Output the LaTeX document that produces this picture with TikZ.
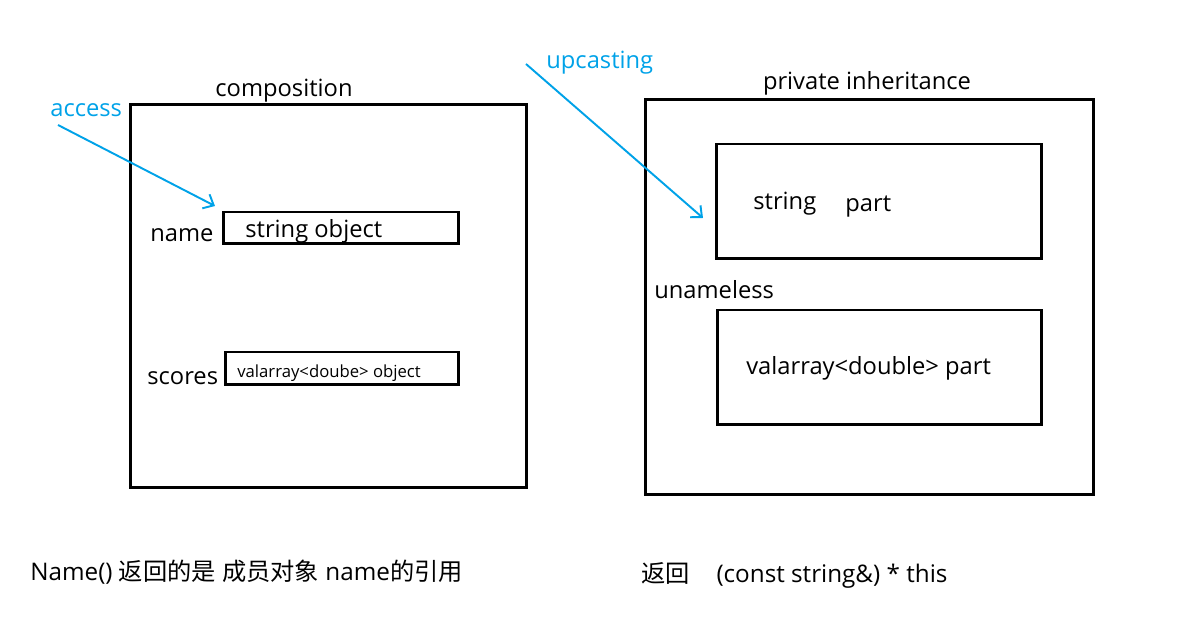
\documentclass[tikz,border=0pt]{standalone}
\usepackage{fontspec}
\setmainfont{Open Sans}
\newfontfamily\cjk{Noto Sans CJK SC}
\usetikzlibrary{arrows.meta}
\definecolor{pen}{RGB}{0,162,232}

\begin{document}
\begin{tikzpicture}[x=0.02cm, y=-0.02cm,
    box/.style={draw, line width=1.7pt, inner sep=0pt},
    txt/.style={anchor=base west, inner sep=0pt, font=\fontsize{13.5}{16}\selectfont},
    small/.style={anchor=base west, inner sep=0pt, font=\fontsize{9.5}{12}\selectfont},
    note/.style={txt, text=pen},
    bottom/.style={txt, font=\fontsize{13.8}{16}\selectfont},
    pointer/.style={draw=pen, line width=1.1pt, -{Straight Barb[length=5pt, width=9pt]}}]

    \useasboundingbox (0,0) rectangle (1190,644);

    % composition
    \node[box, minimum width=7.94cm, minimum height=7.68cm] (comp) at (328.5,296) {};
    \node[txt, anchor=base] (comptitle) at (284,97) {composition};
    \node[box, minimum width=4.72cm, minimum height=0.64cm] (nameobj) at (341,228) {};
    \node[box, minimum width=4.68cm, minimum height=0.66cm] (scoresobj) at (342,368.5) {};
    \node[txt] (namelbl) at (150,242) {name};
    \node[txt] (nametxt) at (245,238) {string object};
    \node[txt] (scoreslbl) at (147,385) {scores};
    \node[small] (scorestxt) at (237,378) {valarray<doube> object};

    % private inheritance
    \node[box, minimum width=8.98cm, minimum height=7.92cm] (priv) at (869.5,297) {};
    \node[txt, anchor=base] (privtitle) at (867,90) {private inheritance};
    \node[box, minimum width=6.52cm, minimum height=2.3cm] (strpart) at (879,201.5) {};
    \node[box, minimum width=6.5cm, minimum height=2.3cm] (valpart) at (879.5,367.5) {};
    \node[txt] (strtxt) at (753,210) {string};
    \node[txt] (parttxt) at (845,212) {part};
    \node[txt] (unnamed) at (654,299) {unameless};
    \node[txt] (valtxt) at (746,375) {valarray<double> part};

    % pen notes
    \node[note] (access) at (50,117) {access};
    \node[note] (upcast) at (546,69) {upcasting};
    \coordinate (accesstail) at (58,125);
    \coordinate (accesstip) at (215,206);
    \coordinate (upcasttail) at (526,64);
    \coordinate (upcasttip) at (703,218);
    \draw[pointer] (accesstail) -- (accesstip);
    \draw[pointer] (upcasttail) -- (upcasttip);

    % bottom lines
    \node[bottom] (leftnote) at (30,581) {Name() {\cjk 返回的是} {\cjk 成员对象} name{\cjk 的引用}};
    \node[bottom] (rightnote) at (641,583) {{\cjk 返回}\hspace{1.1em}(const string\&) * this};

\end{tikzpicture}
\end{document}
